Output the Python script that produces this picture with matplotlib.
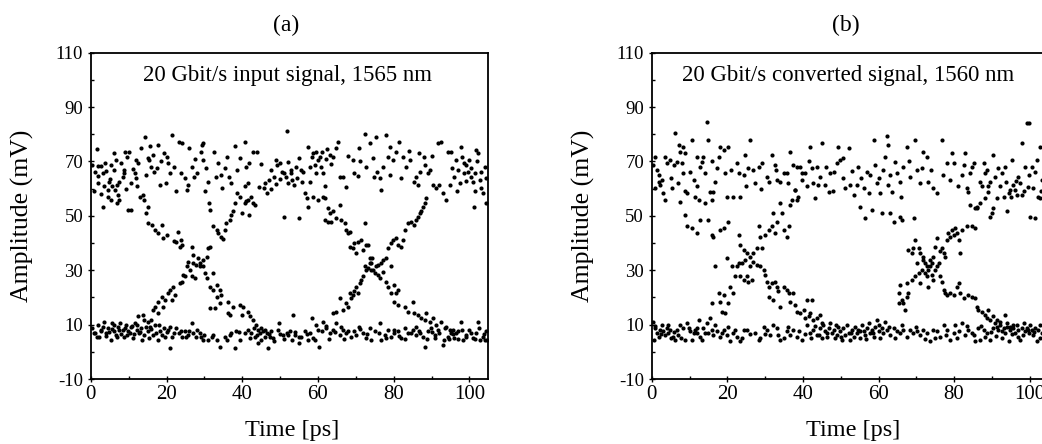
import matplotlib
matplotlib.use("Agg")
import matplotlib.pyplot as plt
from matplotlib.ticker import MultipleLocator, FixedLocator

plt.rcParams['font.family'] = ['Liberation Serif', 'DejaVu Serif']
plt.rcParams['axes.unicode_minus'] = False

# ---------------- data (time in ps, amplitude in mV) -------------
a_upper = [(1.5,74.7),(0.4,68.7),(1.8,68.4),(2.6,68.5),(1.1,66.3),(1.9,64.7),(3.1,65.7),(4.1,66.5),(0.7,59),(2.6,58.1),(3.1,53.4),(4.4,59.5),(4.8,62.6),(3.8,69.4),(5.3,68.7),
(6.4,59.5),(5.7,60.8),(7,61.4),(7.5,62.6),(8.4,64.4),(8.8,65.7),(8,69.4),(9.5,71.8),(10,73.6),(9,73.6),(11,67.1),(11.6,65.7),(12.5,69.4),(6.6,70.6),(6,73),(7.5,55.9),(6.8,54.6),(9.8,52.2),(10.7,52.2),(8.8,66.9),(5.3,55.9),(4.4,57.1),
(13.2,74.9),(14.2,78.9),(15.6,75.8),(15,71.2),(14.6,65),(15.4,70.6),(15.8,68.1),(12.3,60.8),(13,57.1),(13.8,57.7),(14,55.9),(16.7,66.3),(17.5,67.5),(18.5,70),(18.3,61.4),(19.4,73),(20.4,69.4),(21.3,79.8),(20.2,71.8),(21,65.7),
(22.6,59),(23.2,77),(24.1,76.7),(23.9,65.7),(24.8,63.8),(25.6,61.4),(25.3,59.5),(26.8,68.1),(27.2,64.4),(28,65.7),(29,73.6),(29.4,76),(29.7,76.7),(29.7,70.6),(30.3,67.5),(30.2,59),(31,62.6),(31.2,54.6),(31.4,52.2),(32.6,73.6),(33,64.4),(34.3,65),(34.7,60.1),(36,71.8),(36.5,64.4),(38,75.8),(39.3,71.2),(40.6,77.3),(41.1,68.1),(41.9,69.4),(42.9,73.6),(43.8,73.6),(41.5,62),(42.4,57.1),(43.3,54),(41,55.3),(42.8,54.6),
(45.7,60.1),(46.5,58.5),(47,63.2),(47.7,66.9),(48.3,64.4),(48.8,70.6),(49.2,68.7),(49.9,69.4),(50.5,66.3),(51,65.7),(51.5,64.4),(51.8,81.2),(51,49.7),(52.1,69.9),(52.8,65.7),(53.2,63.2),(53.7,61.4),(54.1,68.1),(55,71.2),(55.4,66.9),(55.9,62.6),(56.5,58.5),(57,56.5),(55,49.1),(57.4,75.5),(58.3,71.8),(58.8,73),(59.2,68.7),(59.6,73.6),(60.5,71.8),(60.9,68.1),(59.6,65.7),(58.8,57.1),(60.1,55.9),(57.4,53.4),(61.2,65.7),(61.8,60.8),(63.1,72.4),(64,71.8),(64.8,74.9),(65.3,77.3),(65.7,64.4),(66.6,64.4),(61.8,56.5),
(69.2,70.6),(69.6,65.7),(70.9,74.9),(72.3,80),(72.8,68.1),(73.7,76.7),(74.5,71.2),(74.9,64.4),(75.4,78.9),(76.3,63.8),(76.7,59.5),(77.2,68.1),(77.9,79.8),(78.5,71.8),(78.9,75.5),(79.8,70.6),(81.5,77.3),(82.4,71.8),(83.3,68.1),(84.2,70.6),(85.5,62.6),(86.4,61.4),(85.9,64.4),(86.8,73),(88.2,68.7),(89,65.7),(89.5,66.9),
(90.4,61.4),(91.2,60.1),(91.7,76.7),(92.1,61.4),(92.6,77.3),(93,58.5),(93.9,55.9),(94.3,73.6),(94.8,61.4),(95.2,73.6),(96,64.4),(96.5,70.6),(97,66.9),(97.4,62),(97.8,75.5),(98.1,71.8),(98.7,69.4),(99.2,68.7),(99.6,66.3),(100,70.6),(100.5,64.4),(100.9,62.6),(101.4,59),(101.1,53.4),(101.8,74.3),(102.7,63.2),(103.1,60.1),(103.5,58.5),(104,68.1),(104.4,54.6),(102.2,73),(98.7,65.7),
(46,62),(47.5,59.8),(49,61.8),(50,63.5),(52,62),(53,67),(54.5,64),(56,66),(57.8,68),(58,62.5),(60,70.5),(61,73.5),(62,71),(63.5,69),(62.5,74.5),(2,62),(3.5,61),(5,63.5),(6,67),(7.2,57.8),(9.2,60),(10.5,62),(11.8,70.5),(12,64),(44.5,60.5),(45,69),(67.5,60.5),(68,72),(71,70),(70.5,64.5),(75.5,66),(79,65),(80.5,73.5),(82,64),(84,74),(87,66),(88,71.5),(90,72),(99,63),(100.3,67.5),(101.5,65.8),(102,70),(103,66),(104.5,64),(96.8,59),(95.5,67.5),(38.5,67),(37,62),(35.5,67.5),(33.5,69.5),(27.5,71),(26,75),(22,68),(19.8,62),(17.8,76),(16.5,72.5)]

a_fall = [(15,53.4),(14.6,51),(15,47.3),(16.2,46.7),(17,44.8),(17.8,43.6),(18.7,46.7),(19.1,41.8),(20,43),(22,40.6),(22.6,40.5),(23,44.2),(23.9,41.2),(23.5,38.4),(24.1,39.3),(26.6,38.7),(27,35.7),(28.3,34.4),(28.8,32.6),(29.7,31.4),(30.1,28.9),(30.6,27.1),(32.3,28.9),(31.4,24),(32.3,22.8),(33.2,24.6),(34,22.8),(33.2,20.3),(34.5,21),(34,17.9),(31.4,16),(32.7,16),(36.3,18.5),(37.6,16.6),(36.3,14.2),(36.7,13.6),(39.3,17.3),(40.2,16.6),(39.8,13.6),(41.5,14.8),(42,13),(42.8,11.8),(43.7,9.9),(44.2,8.1),(45,8.7),
(61.3,57.1),(62.6,52.8),(63.1,50.9),(64,51.6),(61.8,48.5),(62.6,47.9),(63.5,47.9),(64.8,49.1),(65.7,54),(66.2,48.5),(67.5,44.8),(67.9,43.6),(68.4,44.2),(67.1,47.3),(68.4,38.7),(69.2,38.1),(69.6,39.9),(70.5,40.5),(70.1,36.3),(71.4,41.2),(72.8,39.3),(73.2,39.3),(72.3,47.3),(71.9,37.5),(73.7,34.4),(74.1,32.6),(74.5,30.1),(75.4,31.4),(75.9,28.3),(76.3,27.1),(77.2,29.5),(78.1,25.8),(78.5,24),(79.4,21.6),(79.4,31.4),(80.2,24.6),(80.7,21.6),(81.1,22.8),(80.2,18.5),(81.1,17.3),(82.9,16.6),(83.8,14.8),(85.1,18.5),(85.5,14.2),(86.4,13.6),(87.3,12.4),(88.2,11.7),(88.6,14.2),(89.5,11.1),(90.4,12.4),(91.2,9.9),(92.6,11.1),(93.9,9.3),(94.8,8.1),(95.7,8.1),(96.5,6.9)]

a_rise = [(12.5,13),(13.8,13.6),(15.1,11.1),(16,11.7),(16.5,15.4),(17,16.6),(17.8,14.2),(17.8,18.5),(18.7,20.3),(19.6,19.1),(19.1,16.6),(20.4,21.6),(20.9,22.8),(21.7,24),(22.2,21),(21.3,19.1),(23.5,25.2),(24,25.8),(24.4,28.3),(24.8,27.7),(25.3,31.4),(25.7,33.2),(26.2,30.1),(27,32.6),(27.9,31.9),(28.8,31.4),(29.7,33.8),(30.6,35),(31,38.1),(31.6,38.4),(32.3,46.1),(33.2,44.8),(33.6,43.6),(34.5,42.4),(34.8,41.4),(35.4,44.8),(35.8,47.3),(36.7,48.5),(37.1,50.4),(37.6,51.6),(38,54.6),(38.5,58.3),(39.3,57.1),(39.8,51),(40.6,54.6),(40.6,60.8),(41.5,55.9),(41.9,50.4),(26.6,27.7),(27.5,27.1),
(64,14.2),(64.8,14.8),(65.7,19.7),(66.6,15.4),(67.5,17.9),(67.9,16.6),(68.4,21.6),(68.8,19.7),(69.2,21),(69.6,22.2),(70.1,24),(70.5,21.6),(71,25.2),(71.4,26.5),(71.9,27.7),(72.3,31.4),(72.8,30.1),(73.2,30.7),(73.7,32.6),(74.1,30.1),(74.3,34.4),(75,28.9),(75.9,31.9),(76.7,32.6),(77.2,33.8),(78.1,34.4),(78.5,38.1),(79.4,39.9),(79.8,41.2),(80.7,41.8),(81.1,39.3),(82,38.7),(82.4,41.2),(82.9,44.8),(83.8,47.3),(84.6,47.9),(85.5,46.7),(85.9,48.5),(86.4,49.7),(87,51),(87.7,53.4),(88.2,54.6),(88.6,56.5),(87.3,51.6)]

a_lower = [(0.4,8.7),(0.9,6.8),(1.8,9.9),(2.2,5.6),(2.6,8.1),(3.5,11.1),(3.9,6.8),(4.4,8.7),(5.3,4.4),(5.7,10.5),(6.1,7.5),(6.6,6.2),(7.2,9.3),(7.7,10.5),(8.4,8.1),(8.8,5.6),(9.2,9.9),(9.9,7.5),(10.5,9.3),(11,5),(11.6,10.5),(12.1,8.1),(12.6,6.8),(13.2,8.7),(13.6,4.4),(14.1,11.7),(15,7.5),(15.7,9.3),(16.3,6.2),(17,9.9),(17.6,4.4),(18.3,7.5),(19.2,8.7),(19.6,5.6),(20.4,8.1),(20.9,1.3),(22,6.8),(22.4,8.7),(23.2,6.8),(24,5.6),(24.8,7.5),(25.7,6.2),(26.6,10.5),(27,6.8),(27.9,5.6),(28.8,6.8),(29.7,4.4),(31,4.4),(32.3,6.2),(33.2,4.4),(34.2,1.9),(35.4,5.6),(36.7,6.2),(38,1.3),(38.4,7.5),(39.3,4.4),(40.6,6.8),(41.5,8.1),(42.4,6.8),(43.3,5.6),(44.2,3.1),(44.6,6.8),(45.5,7.5),(45.9,5.6),(46.4,6.8),(46.8,1.3),(47.2,5.6),(47.7,7.5),(48.5,3.8),(49.4,8.1),(49.8,10.5),(50.8,6.2),(51.7,6.8),(52.5,7.5),(53.2,4.4),(53.9,6.2),(53.4,13.6),(55,3.1),(55.6,5.6),(56.5,7.5),(57.4,4.4),(58,6.8),(58.3,12.4),(59.2,4.4),(59.6,9.9),(60,8.1),(60.4,1.9),(61.3,11.1),(62.2,8.7),(63.1,6.8),(64,8.1),(64.8,10.5),(65.7,6.2),(66.6,8.1),(67.5,6.8),(68.8,5.6),(69.6,7.5),(70.9,9.3),(71.9,6.8),(72.8,5),(73.7,8.7),(75,7.5),(76.3,10.5),(76.7,4.4),(77.6,6.2),(78.5,8.1),(79.4,5.6),(80.2,6.8),(81.1,7.5),(82,5),(82.9,8.7),(83.8,6.8),(85.1,8.1),(85.9,6.2),(86.8,7.5),(87.7,5.6),(88.2,1.9),(89,7.5),(89.9,8.7),(90.8,6.2),(91.7,8.1),(93,2.5),(93.4,4.4),(94.3,5.6),(95.2,6.8),(96,5),(96.9,7.5),(97.8,11.1),(98.3,4.4),(99.2,6.2),(100,8.1),(100.9,5),(101.8,6.8),(102.7,4.4),(103.5,5.6),(104.4,7.5),(104.6,4.4),(102.2,11.1),
(1,7),(1.5,5.5),(2.8,7.8),(3.2,9.1),(4,5.8),(4.8,7.2),(5.5,8.5),(6.2,9.8),(6.9,5.3),(7.4,8),(8,6.5),(9,8.8),(9.5,6),(10.2,7),(10.8,9.5),(11.5,6.5),(12.3,9.8),(13,7.3),(14,6),(14.5,9),(15.3,5.2),(16,8.4),(17.3,7),(18,10),(18.8,6.2),(20,7.3),(21,9),(21.5,5.5),(23.7,7.5),(25,5.3),(26,7.8),(28,8),(29,5.5),(30,6.2),(32,5.3),(36,4.5),(37,6.8),(39,7.2),(42,5.2),(43,8.6),(44,6),(45,4.5),(46,8),(47,6.5),(48,5.1),(50,6.5),(51,4.8),(52,6),(54,7.3),(55,5.3),(57,6.5),(58.7,5.2),(61,7.5),(62,9.6),(63,4.8),(64.5,7.2),(66,9.2),(67,4.8),(68,7.6),(70,6),(71,8.5),(73,6.5),(74,4.4),(76,7),(78,5.2),(80,8.2),(81.5,5.8),(83,4.8),(84.5,7),(86,9),(87,6.8),(88.8,4.7),(90,7.4),(91,5),(92,7),(93.5,8.6),(94.5,4.6),(95.8,6.4),(97,4.8),(98,8),(99,5.4),(100.5,7),(101.5,4.6),(102.5,8.6),(103.8,6.5),(104.2,4.2)]

b_upper = [(0.4,68.7),(0.9,71.8),(1.3,66.9),(0.9,60.1),(1.8,62.6),(2.2,61.4),(2.7,63.2),(3.1,58.3),(3.6,55.9),(4,69.4),(3.6,71.8),(4.9,70.6),(5.3,60.1),(5.8,68.7),(6.6,69.9),(6.2,80.4),(7.1,76),(7.5,73.6),(8,69.4),(8.4,75.5),(8.9,73),(8.4,65.7),(8.9,59),(9.3,58.3),(10.6,77.9),(11.1,63.2),(11.5,57.1),(11.9,71.8),(12.4,55.9),(12.8,68.1),(13.3,69.9),(13.7,71.8),(14.1,65.7),(14.6,84.6),(15,77.9),(14.1,54.6),(15.5,58.9),(15.9,55.9),(16.3,58.9),(16.8,62.6),(17.2,67.5),(17.7,71.8),(18.1,75.5),(19,74.3),(19.4,65.7),(19.9,57.1),(20.3,75.5),(21.6,57.1),(22.5,69.4),(23,65.7),(23.4,57.1),(24.3,65),(24.7,72.4),(26,77.9),(25.6,67.5),(26.9,66.9),(27.4,62),(28.3,68.1),(29.1,69.4),(30.5,64.4),(30.9,62.6),(31.8,72.4),(32.7,68.7),(33.1,63.2),(34,62.6),(34.9,65.7),(35.7,65.7),(36.6,73.6),(37.5,68.7),(38.4,68.1),(39.3,68.1),(39.7,65.7),(40.6,65.7),(41,60.8),(39.8,63.2),(41.9,75.5),(42.4,67.5),(42.8,62),(43.2,56.5),(43.7,68.1),(44.6,64.4),(45,76.7),(45.9,61.4),(46.8,58.9),(47.2,65.7),(48.1,66.3),(49,69.4),(49.4,75.5),(49.9,70.6),(50.7,71.2),(51.2,60.1),(52.1,74.9),(52.5,61.4),(53.4,57.7),(54.3,61.4),(54.7,68.1),(55.2,53.4),(56.1,60.1),(56.5,49.1),(57,66.3),(57.8,65),(58.2,52.2),(58.7,77.9),(59.1,68.7),(59.6,62),(60,63.8),(60.9,51),(61.3,66.9),(61.7,71.8),(62.2,79.2),(62.6,76.1),(63.1,65),(63.5,58.9),(63.1,51),(64.4,69.9),(64.8,65.7),(65.7,62.6),(66.6,68.1),(67.5,75.5),(68.4,64.4),(69.7,77.9),(70.1,66.9),(70.9,62),(71.9,73.6),(72.8,71.8),(73.2,62.6),(74.5,60.1),(75.4,58.3),(76.8,77.9),(78.1,69.4),(79,63.2),(79.4,73),(79.9,69.4),
(64,47.9),(65.7,49.7),(66.2,48.5),(69.3,49.1),
(82,65),(82.5,68.7),(82.9,73),(83.4,60.1),(83.8,58.9),(84.2,65.7),(84.7,68.1),(85.6,52.8),(85.2,69.4),(86,53.4),(86.9,62.6),(87.3,60.8),(87.8,69.4),(88.2,65.7),(88.6,66.9),(89.1,60.8),(89.5,62.6),(89.9,51),(90.4,72.4),(90.9,64.4),(91.3,56.5),(92.2,60.8),(92.6,65.7),(93.1,57.1),(93.5,68.1),(94,51.6),(94.4,58.3),(94.8,59.5),(95.3,70.6),(95.7,61.4),(96.2,59.5),(96.6,57.7),(97,64.4),(97.5,62),(97.9,76.7),(98.4,59),(98.8,68.1),(99.2,84),(99.9,84.3),(99.7,65),(100.1,49.7),(100.6,68.1),(101,60.1),(101.4,49.1),(101.9,70.6),(102.3,57.1),(102.8,75.5),(103.2,63.2),(102.8,56.5),
(2,65),(5,64),(7,62),(10,66),(12,61),(16,70),(21,67),(25,61),(29,60),(33,67),(36,62),(38,59.5),(41.5,70),(44,61.5),(46,68),(48,59),(50.5,64),(53,66.5),(55.5,64),(57.5,58.5),(60.5,58.5),(62.5,61.5),(66,57),(68,70),(71.5,67.5),(74,67),(77,65),(81,61),(91.5,67.5),(93.8,62.5),(95,57),(96.5,63),(98,57.5),(99.5,60.5),(101.5,66),(103,59)]

b_fall = [(7.5,55.2),(8.9,50.4),(9.3,46.1),(10.6,45.5),(11.9,43.6),(12.8,48.5),(15,48.5),(15.9,43),(16.3,42.4),(18.1,44.8),(19,45.5),(20.3,47.9),(23,43),(23.4,39.3),(24.3,37.5),(25.2,36.3),(26,35),(26.9,33.2),(27.8,31.9),(28.7,31.4),(29.6,30.1),(30,28.3),(30.5,25.8),(30.9,24),(31.8,25.2),(32.7,25.8),(33.1,24),(33.5,22.2),(34.9,24),(35.7,22.8),(36.2,21.6),(37.5,21.6),(36.6,18.5),(37.9,17.3),(38.4,14.8),(39.3,14.2),(40.2,15.4),(40.6,12.4),(41.5,13),(41.9,14.2),(42.4,19.1),(41,19.1),(42.8,11.7),(43.7,12.4),(44.6,13.6),(45,10.5),(32.2,19.1),(34,16.6),(30.9,20.3),
(65.3,21.6),(65.7,24.6),(66.6,17.9),(67,15.4),(67.5,20.3),(67.9,37.5),(68.8,36.3),(69.2,38.1),(69.7,41.2),(70.6,38.1),(71,36.3),(71.9,33.8),(72.3,32.6),(72.8,31.4),(73.2,30.1),(73.7,33.8),(74.1,28.3),(74.5,26.5),(75,30.1),(75.4,31.4),(75.9,32.6),(76.3,27.7),(76.8,25.8),(77.2,22.8),(77.6,21.6),(78.1,21),(79,21.6),(79.9,21),(80.7,24),(81.2,25.2),(81.6,21.6),(82.5,19.7),(83.8,21),(84.7,20.3),(85.6,19.7),(86,16.6),(86.4,15.4),(87.3,14.8),(88.2,13.6),(88.6,12.4),(89.1,15.4),(89.5,11.7),(90.4,13),(91.3,11.7),(92.2,11.1),(93.5,13.6),(94,10.5),(94.8,9.3),(95.7,9.9)]

b_rise = [(15.5,12.4),(15.9,17.9),(16.8,31.4),(17.7,21.6),(18.1,18.5),(18.5,14.8),(19,21),(19.4,14.2),(19.9,34.4),(20.3,17.9),(20.7,24),(21.6,21.6),(21.2,31.4),(22.1,27.7),(22.5,31.4),(23,32.6),(23.4,27.7),(23.9,32.6),(24.3,26.5),(24.7,33.8),(25.2,27.7),(25.6,25.8),(26,31.4),(26.5,26.5),(26.9,36.3),(27.8,38.1),(28.3,46.1),(28.7,42.4),(29.1,38.1),(30,43),(30.9,44.8),(31.8,46.1),(32.2,51),(32.7,43.6),(33.1,47.9),(34,54.6),(34.4,50.9),(34.9,44.8),(35.7,42.4),(36.2,46.1),(36.6,54),(37.1,55.9),(37.9,59.5),(38.4,55.9),(38.8,57.1),
(65.3,17.9),(66.2,19.1),(67.5,25.2),(67.9,21.6),(68.8,26.5),(69.7,27.7),(70.1,32.6),(70.6,28.9),(71,25.2),(71.4,30.1),(71.9,35),(72.3,28.9),(72.8,27.7),(73.2,24),(73.7,31.4),(74.1,32.6),(74.5,35),(75,38.7),(75.4,41.8),(76.3,36.9),(76.8,38.1),(77.2,36.3),(77.6,35),(78.1,41.2),(78.5,43.6),(79,42.4),(79.4,44.8),(79.9,43),(80.3,45.5),(80.7,43.6),(81.2,41.2),(81.6,36.3),(82,44.8),(83.4,46.1),(84.7,46.1),(84.2,54),(85.6,45.5),(86,52.8),(86.9,54.6),(88.2,56.5),(89.1,58.9),(89.5,49.7),(90.4,52.8)]

b_lower = [(0.4,11.1),(0.9,8.7),(1.3,6.8),(1.8,5.6),(0.6,4.4),(2.2,8.1),(2.7,9.9),(3.1,7.5),(3.6,6.2),(4,8.7),(4.4,6.8),(4.9,8.1),(5.6,5.6),(6.2,4.4),(6.6,8.1),(7.5,9.9),(8.4,8.7),(8.9,4.4),(9.3,10.5),(10.2,7.5),(10.6,4.4),(11.1,6.8),(11.5,8.1),(11.9,6.8),(12.4,11.7),(12.8,5.6),(13.3,4.4),(13.7,8.7),(14.6,10.5),(15,6.8),(15.9,8.1),(16.3,6.2),(17.2,7.5),(18.1,5.6),(19,8.1),(19.9,6.2),(20.8,3.8),(21.6,6.8),(22.5,5.6),(23.4,3.8),(24.3,8.1),(25.2,8.1),(27.4,6.8),(28.3,4.4),(28.7,5),(29.6,9.3),(30.5,8.1),(31.4,6.2),(32.2,9.9),(33.1,8.7),(34,4.4),(34.9,5),(35.7,7.5),(36.6,6.2),(37.5,8.1),(38.4,5.6),(39.7,4.4),(41,9.9),(41.9,6.8),(42.8,8.1),(43.7,6.2),(44.6,8.7),(45,5),(45.4,9.9),(45.9,7.5),(46.3,5.6),(46.8,8.7),(47.2,10.5),(47.6,6.8),(48.1,8.1),(48.5,5),(49,6.2),(49.4,9.3),(49.9,7.5),(50.3,4.4),(50.7,8.7),(51.2,6.2),(51.6,9.9),(52.1,6.8),(52.5,4.4),(53,8.1),(53.4,5.6),(53.8,9.3),(54.3,6.8),(54.7,8.1),(55.2,5),(55.6,9.9),(56.1,7.5),(56.5,6.2),(57,8.7),(57.4,10.5),(57.8,6.8),(58.2,8.1),(58.7,5.6),(59.1,9.3),(59.6,11.7),(60,7.5),(60.4,5),(60.9,8.7),(61.3,6.8),(61.7,11.1),(62.2,8.1),(63.1,6.2),(64,8.7),(64.8,7.5),(65.7,6.8),(66.6,8.1),(67.5,5.6),(68.4,8.1),(69.2,6.8),(70.1,7.5),(71,6.2),(71.9,8.1),(72.8,6.8),(73.7,3.8),(74.5,8.1),(75.4,7.5),(76.3,5.6),(77.2,9.9),(78.1,8.1),(79,4.4),(79.9,6.8),(80.3,9.9),(81.2,7.5),(82,10.5),(82.9,6.2),(83.8,8.1),(84.7,6.8),(85.6,3.8),(86.4,8.7),(86.9,4.4),(87.8,8.1),(88.6,6.8),(89.5,4.4),(90.4,8.7),(90.9,10.5),(91.3,9.3),(91.7,8.1),(92.2,9.9),(92.6,7.5),(93.1,8.7),(93.5,6.8),(94,9.3),(94.4,3.8),(94.8,8.1),(95.7,8.7),(96.2,6.8),(96.6,9.9),(97,8.1),(97.5,4.4),(97.9,8.7),(98.4,10.5),(98.8,7.5),(99.2,8.7),(99.7,6.8),(100.1,9.9),(100.6,8.1),(101,6.2),(101.4,8.7),(101.9,3.8),(102.3,8.1),(102.8,9.9),(103.2,6.8),
(1,9.5),(2.5,6.5),(4.2,10),(5,5.2),(6,7.2),(7,6),(7.8,5.2),(9.8,8.8),(12,8.8),(14,7),(16.8,9.8),(18.5,7),(20.3,9),(22,8),(24,5.2),(26,6.5),(30,6.5),(33.5,6),(36,9),(39,7.5),(40.5,6.5),(42.2,5),(43.2,9.5),(44.2,6),(46.5,7),(48.8,9.8),(50,5.6),(52.8,7),(55,7.8),(56.8,4.6),(58.5,7),(60.2,9.8),(62.8,9.2),(64.4,5.2),(66.2,9.9),(69.8,9),(72.3,4.6),(75,5.2),(77.8,6.2),(80.8,5.2),(83.3,9.5),(85.2,6),(87.2,9.6),(88.2,5.4),(89.8,7.3),(91,5.8),(92.8,5.2),(95.2,6.4),(96.8,5.4),(98.2,6.2),(99.5,8),(101.2,7.4),(102.6,5.2)]

panels = [
    dict(title="(a)", note="20 Gbit/s input signal, 1565 nm", note_x=13.8,
         groups=[a_upper, a_fall, a_rise, a_lower]),
    dict(title="(b)", note="20 Gbit/s converted signal, 1560 nm", note_x=7.9,
         groups=[b_upper, b_fall, b_rise, b_lower]),
]
y_major = [-10, 10, 30, 50, 70, 90, 110]
x_major = [0, 20, 40, 60, 80, 100]

W, H = 1042, 444
fig = plt.figure(figsize=(W / 100, H / 100), dpi=100)
ax_px = [(90.9, 52.7, 397.4, 326.3), (651.7, 52.7, 396.9, 326.3)]

for p, (left, top, w, h) in zip(panels, ax_px):
    ax = fig.add_axes([left / W, 1 - (top + h) / H, w / W, h / H])
    for g in p["groups"]:
        xs = [pt[0] for pt in g]
        ys = [pt[1] for pt in g]
        ax.plot(xs, ys, 'o', ms=3.0, mew=0, color='black', clip_on=True)
    ax.set_xlim(0, 105)
    ax.set_ylim(-10, 110)
    ax.yaxis.set_major_locator(FixedLocator(y_major))
    ax.yaxis.set_minor_locator(MultipleLocator(10))
    ax.xaxis.set_major_locator(FixedLocator(x_major))
    ax.xaxis.set_minor_locator(MultipleLocator(10))
    ax.tick_params(which='major', direction='inout', length=5, width=1.0, colors='black')
    ax.tick_params(which='minor', direction='in', length=2.5, width=1.0)
    ax.tick_params(axis='y', which='major', labelsize=13.5, pad=3)
    ax.tick_params(axis='x', which='major', labelsize=15, pad=2)
    for s in ax.spines.values():
        s.set_linewidth(1.3)
    ax.set_ylabel("Amplitude (mV)", fontsize=18.5)
    ax.yaxis.set_label_coords(-0.143, 0.5)
    ax.set_xlabel("Time [ps]", fontsize=17.5)
    ax.xaxis.set_label_coords(0.507, -0.125)
    ax.text(p["note_x"], 99.6, p["note"], fontsize=16.5, ha='left', va='baseline')
    fig.text((left + w * 0.49) / W, 1 - 31 / H, p["title"], fontsize=17, ha='center', va='baseline')

fig.savefig("out.png", dpi=100)
